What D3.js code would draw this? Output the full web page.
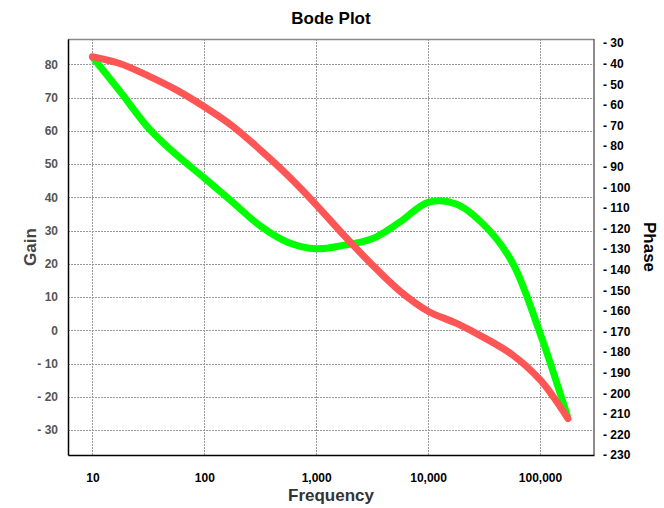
<!DOCTYPE html>
<html>
<head>
<meta charset="utf-8">
<script src="https://cdn.jsdelivr.net/npm/d3@7"></script>
<style>
  body { margin: 0; background: #fff; }
  text { font-family: Arial, "Liberation Sans", sans-serif; font-weight: bold; }
</style>
</head>
<body>
<div id="chart"></div>
<script>
// frequency samples (Hz)
const freqs = [10, 17.8, 31.6, 56.2, 100, 178, 316, 562, 1000, 1780, 3160, 5620,
  10000, 17800, 31600, 56200, 100000, 133000, 178000];
// gain (left axis) - green
const gain = [82.2, 71.7, 60.9, 52.8, 45.8, 38.6, 31.4, 26.4, 24.5, 25.6, 27.5, 32.6,
  38.5, 38.0, 31.7, 20.6, -0.8, -13.1, -26.3];
// phase (right axis) - red
const phase = [-36.6, -40.0, -45.9, -52.7, -60.9, -70.2, -81.8, -94.4, -108.5, -123.5, -137.6, -150.5,
  -160.2, -166.0, -173.0, -181.2, -193.4, -202.1, -212.3];

const freqTicks = [10, 100, 1000, 10000, 100000];
const gainTicks = [80, 70, 60, 50, 40, 30, 20, 10, 0, -10, -20, -30];
const phaseTicks = d3.range(-30, -231, -10);

let drawBode = (locationId) => {
  const W = 664, H = 508;
  const margin = { top: 39, right: 70, bottom: 53, left: 68 };
  const width = W - margin.left - margin.right;
  const height = H - margin.top - margin.bottom;

  const root = d3.select(locationId).append("svg")
    .attr("width", W)
    .attr("height", H);

  const svg = root.append("g")
    .attr("transform", `translate(${margin.left},${margin.top})`);

  const xScale = d3.scaleLog().domain([6.05, 304000]).range([0, width]);
  const yGain = d3.scaleLinear().domain([-37.5, 87.6]).range([height, 0]);
  const yPhase = d3.scaleLinear().domain([-230, -28]).range([height, 0]);

  const minusFmt = (d) => d < 0 ? "- " + Math.abs(d) : String(d);

  // grid lines
  svg.append("g")
    .selectAll("line")
    .data(gainTicks)
    .join("line")
    .attr("x1", 0).attr("x2", width)
    .attr("y1", (d) => Math.round(yGain(d)) + 0.5)
    .attr("y2", (d) => Math.round(yGain(d)) + 0.5)
    .attr("stroke", "#999")
    .attr("stroke-dasharray", "2,1");

  svg.append("g")
    .selectAll("line")
    .data(freqTicks)
    .join("line")
    .attr("y1", 0).attr("y2", height)
    .attr("x1", (d) => Math.round(xScale(d)) + 0.5)
    .attr("x2", (d) => Math.round(xScale(d)) + 0.5)
    .attr("stroke", "#999")
    .attr("stroke-dasharray", "2,1");

  // plot border: top/right grey, left/bottom black
  svg.append("line").attr("x1", 0).attr("x2", width).attr("y1", 0.5).attr("y2", 0.5)
    .attr("stroke", "#888").attr("stroke-width", 1.5);
  svg.append("line").attr("x1", width).attr("x2", width).attr("y1", 0).attr("y2", height)
    .attr("stroke", "#666").attr("stroke-width", 1.5);

  const pts = freqs.map((f, i) => ({ f: f, g: gain[i], p: phase[i] }));

  const lineGain = d3.line()
    .curve(d3.curveCatmullRom.alpha(0.5))
    .x((d) => xScale(d.f))
    .y((d) => yGain(d.g));

  const linePhase = d3.line()
    .curve(d3.curveCatmullRom.alpha(0.5))
    .x((d) => xScale(d.f))
    .y((d) => yPhase(d.p));

  svg.append("path")
    .datum(pts)
    .attr("fill", "none")
    .attr("stroke", "#00ff00")
    .attr("stroke-width", 7)
    .attr("d", lineGain);

  svg.append("path")
    .datum(pts)
    .attr("fill", "none")
    .attr("stroke", "#ff5555")
    .attr("stroke-width", 7)
    .attr("stroke-linecap", "round")
    .attr("d", linePhase);

  // axes
  const xAxis = svg.append("g")
    .attr("transform", `translate(0,${height})`)
    .call(d3.axisBottom(xScale).tickValues(freqTicks).tickFormat(d3.format(",")).tickSize(0).tickPadding(18));

  const leftAxis = svg.append("g")
    .call(d3.axisLeft(yGain).tickValues(gainTicks).tickFormat(minusFmt).tickSize(0).tickPadding(10));

  const rightAxis = svg.append("g")
    .attr("transform", `translate(${width},0)`)
    .call(d3.axisRight(yPhase).tickValues(phaseTicks).tickFormat(minusFmt).tickSize(0).tickPadding(9));

  xAxis.selectAll("text").attr("fill", "#000").style("font-size", "12px");
  leftAxis.selectAll("text").attr("fill", "#555").style("font-size", "12px");
  rightAxis.selectAll("text").attr("fill", "#000").style("font-size", "12px");

  xAxis.select(".domain").attr("stroke", "#000").attr("stroke-width", 1.5);
  leftAxis.select(".domain").attr("stroke", "#000").attr("stroke-width", 1.5);
  rightAxis.select(".domain").remove();

  // titles
  root.append("text")
    .attr("x", margin.left + width / 2)
    .attr("y", 24)
    .attr("text-anchor", "middle")
    .style("font-size", "17px")
    .attr("fill", "#000")
    .text("Bode Plot");

  root.append("text")
    .attr("x", margin.left + width / 2)
    .attr("y", 501)
    .attr("text-anchor", "middle")
    .style("font-size", "17px")
    .attr("fill", "#333")
    .text("Frequency");

  root.append("text")
    .attr("transform", `translate(36,${margin.top + height / 2}) rotate(-90)`)
    .attr("text-anchor", "middle")
    .style("font-size", "17px")
    .attr("fill", "#444")
    .text("Gain");

  root.append("text")
    .attr("transform", `translate(644,${margin.top + height / 2}) rotate(90)`)
    .attr("text-anchor", "middle")
    .style("font-size", "17px")
    .attr("fill", "#000")
    .text("Phase");
};

drawBode("#chart");
</script>
</body>
</html>
